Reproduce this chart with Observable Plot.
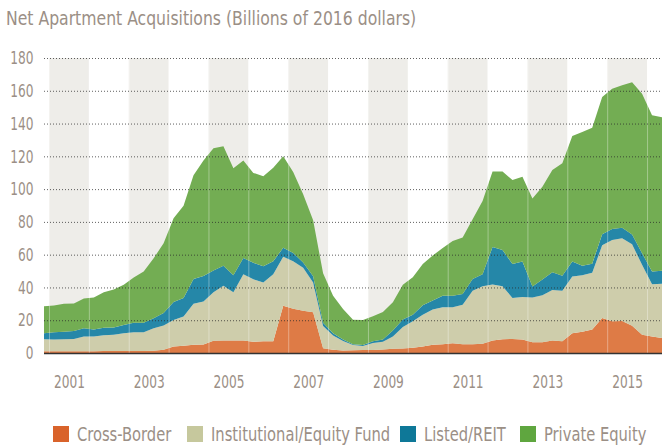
<!DOCTYPE html>
<html><head><meta charset="utf-8">
<script src="https://cdn.jsdelivr.net/npm/d3@7"></script>
<script src="https://cdn.jsdelivr.net/npm/@observablehq/plot@0.6"></script>
<style>
  html,body{margin:0;padding:0;background:#fff;}
  body{position:relative;width:662px;height:447px;overflow:hidden;font-family:"DejaVu Sans Condensed","Liberation Sans Narrow",sans-serif;color:#9b8f86;}
  #title{height:36px;line-height:36px;padding-left:6px;font-size:20px;white-space:nowrap;}
  #title span{display:inline-block;transform:scaleX(0.87);transform-origin:left center;}
  #legend{position:absolute;left:0;top:426px;width:662px;height:16px;font-size:19px;white-space:nowrap;}
  .item{position:absolute;top:0;height:16px;display:flex;align-items:center;}
  .item:nth-child(1){left:53px;}
  .item:nth-child(2){left:187px;}
  .item:nth-child(3){left:400px;}
  .item:nth-child(4){left:520px;}
  .sw{width:16px;height:16px;margin-right:8px;flex:none;}
  .lt{display:inline-block;transform:scaleX(0.86);transform-origin:left center;line-height:16px;}
</style>
</head><body>
<div id="title"><span>Net Apartment Acquisitions (Billions of 2016 dollars)</span></div>
<div id="chart"></div>
<div id="legend"></div>
<script>
const quarters = ["2000Q4",
 "2001Q1","2001Q2","2001Q3","2001Q4","2002Q1","2002Q2","2002Q3","2002Q4",
 "2003Q1","2003Q2","2003Q3","2003Q4","2004Q1","2004Q2","2004Q3","2004Q4",
 "2005Q1","2005Q2","2005Q3","2005Q4","2006Q1","2006Q2","2006Q3","2006Q4",
 "2007Q1","2007Q2","2007Q3","2007Q4","2008Q1","2008Q2","2008Q3","2008Q4",
 "2009Q1","2009Q2","2009Q3","2009Q4","2010Q1","2010Q2","2010Q3","2010Q4",
 "2011Q1","2011Q2","2011Q3","2011Q4","2012Q1","2012Q2","2012Q3","2012Q4",
 "2013Q1","2013Q2","2013Q3","2013Q4","2014Q1","2014Q2","2014Q3","2014Q4",
 "2015Q1","2015Q2","2015Q3","2015Q4","2016Q1","2016Q2"];

const crossBorder = [1.0,1.0,1.0,1.0,1.0,1.0,1.2,1.2,1.2,1.2,1.2,1.3,2.0,3.9,4.5,5.1,5.2,7.5,7.6,7.6,7.6,6.8,7.1,7.1,28.8,27.0,25.8,24.8,2.9,2.0,1.6,1.7,1.8,1.8,2.1,2.6,2.8,3.2,4.0,5.1,5.4,6.0,5.4,5.4,5.6,7.6,8.4,8.6,8.2,6.6,6.6,7.6,7.1,12.0,12.9,14.4,21.3,19.3,19.5,16.7,11.2,10.1,9.1];
const institutional = [7.4,7.2,7.4,7.6,9.0,9.0,9.6,10.0,10.9,11.5,11.5,13.8,14.8,16.3,17.7,24.9,26.3,29.5,33.4,29.4,40.4,38.2,35.9,40.9,29.9,29.0,26.2,18.2,13.6,8.7,5.7,3.2,2.5,4.3,4.7,7.5,13.1,16.1,19.3,21.5,22.5,21.9,24.0,32.6,35.1,34.2,32.4,24.9,25.9,27.3,28.7,30.9,30.9,34.7,34.6,34.5,44.4,49.6,50.5,49.7,42.6,31.9,33.2];
const listedReit = [3.6,4.4,4.6,4.9,5.1,4.3,4.6,4.3,5.0,5.8,5.7,6.1,7.6,10.9,11.3,15.1,15.5,13.3,12.3,10.5,10.0,10.0,10.0,8.0,5.5,5.0,3.2,3.8,1.9,1.3,1.0,0.5,0.6,1.1,1.4,3.7,4.6,4.0,5.8,5.4,7.1,7.1,6.6,7.1,7.4,22.9,22.0,20.8,21.7,6.7,9.5,10.7,9.2,9.1,5.7,5.6,6.8,6.7,6.5,5.9,7.1,7.7,7.9];
const privateEquity = [16.6,16.4,17.0,16.7,18.2,19.6,21.7,23.2,24.5,27.5,31.3,36.6,42.5,51.1,56.4,63.4,70.4,74.7,72.9,65.3,59.4,54.9,54.9,57.0,55.8,49.4,41.6,34.2,30.2,22.9,18.5,14.9,15.3,15.2,16.8,17.2,21.1,22.9,25.2,27.5,29.1,33.3,34.5,36.5,44.7,46.0,48.0,51.2,51.7,53.7,56.6,62.4,68.6,76.6,81.7,82.9,83.7,85.7,86.8,92.9,97.3,95.3,93.6];

const seriesNames = ["Cross-Border","Institutional/Equity Fund","Listed/REIT","Private Equity"];
const seriesValues = [crossBorder, institutional, listedReit, privateEquity];
const areaColors = ["#de7b46","#cecdab","#2587a8","#73ad53"];
const legendColors = ["#d9632b","#c6c89d","#0e7898","#5fa63f"];
const yTicks = [0,20,40,60,80,100,120,140,160,180];
const yearLabels = ["2001","2003","2005","2007","2009","2011","2013","2015"];
const allYears = ["2001","2002","2003","2004","2005","2006","2007","2008","2009","2010","2011","2012","2013","2014","2015","2016"];

const qTime = s => +s.slice(0,4) + (+s.slice(5) - 1) / 4 + 0.125;
const times = quarters.map(qTime);
const data = [];
seriesNames.forEach((name, si) => {
  seriesValues[si].forEach((v, i) => data.push({t: times[i], series: name, value: v}));
});

const plot = Plot.plot({
  width: 662,
  height: 365,
  marginLeft: 44,
  marginRight: 0,
  marginTop: 22,
  marginBottom: 48,
  style: {fontFamily: '"DejaVu Sans Condensed","Liberation Sans Narrow",sans-serif', fontSize: "18px", color: "#9b8f86", background: "#fff", overflow: "visible"},
  x: {domain: [times[0], times[times.length - 1]], axis: null},
  y: {domain: [0, 180], axis: null},
  color: {domain: seriesNames, range: areaColors},
  marks: [
    Plot.rect(yearLabels, {x1: d => +d, x2: d => +d + 1, y1: 0, y2: 180, fill: "#eeede9"}),
    Plot.areaY(data, {x: "t", y: "value", fill: "series", order: seriesNames, curve: "linear"}),
    Plot.ruleX(allYears, {x: d => +d, y1: 0, y2: 180, stroke: "#fff", strokeOpacity: 0.35, strokeWidth: 1}),
    Plot.ruleY(yTicks.filter(d => d > 0), {y: d => d, stroke: "#2a2a2a", strokeOpacity: 0.75, strokeDasharray: "1,2", strokeWidth: 1}),
    Plot.ruleY([0], {stroke: "#333", strokeWidth: 1.6}),
    Plot.axisY(yTicks, {label: null, tickSize: 0, tickPadding: 11, fill: "#9b8f86", fontSize: 18}),
    Plot.axisX(yearLabels.map(d => +d + 0.5), {label: null, tickSize: 0, tickPadding: 22, tickFormat: d => String(Math.floor(d)), fill: "#9b8f86", fontSize: 18})
  ]
});
document.getElementById("chart").appendChild(plot);

// condense tick label glyphs to mimic the narrow typeface
plot.querySelectorAll('g[aria-label$="tick label"] text').forEach(t => {
  const len = t.getComputedTextLength();
  t.setAttribute("textLength", (len * 0.75).toFixed(1));
  t.setAttribute("lengthAdjust", "spacingAndGlyphs");
});

const legend = document.getElementById("legend");
seriesNames.forEach((name, i) => {
  const it = document.createElement("div");
  it.className = "item";
  const sw = document.createElement("div");
  sw.className = "sw";
  sw.style.background = legendColors[i];
  const tx = document.createElement("span");
  tx.className = "lt";
  tx.textContent = name;
  it.appendChild(sw); it.appendChild(tx);
  legend.appendChild(it);
});
</script>
</body></html>
